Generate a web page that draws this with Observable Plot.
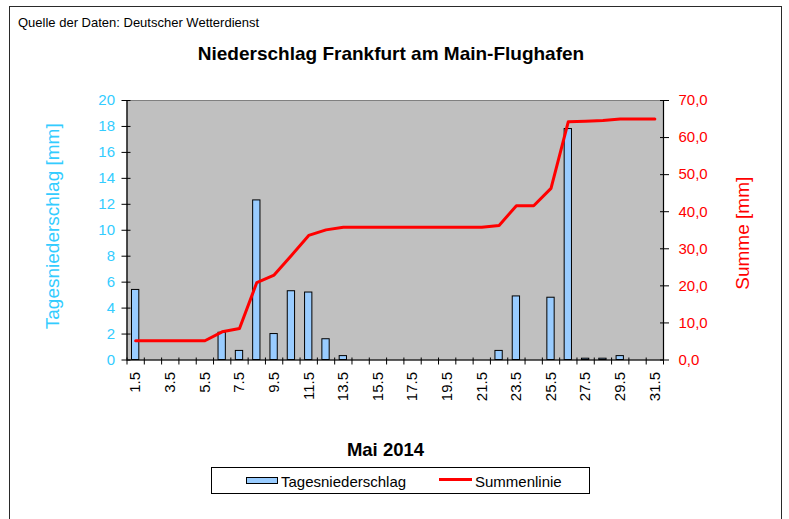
<!DOCTYPE html>
<html><head><meta charset="utf-8">
<script src="https://cdn.jsdelivr.net/npm/d3@7"></script>
<script src="https://cdn.jsdelivr.net/npm/@observablehq/plot@0.6"></script>
<style>
body{margin:0;background:#fff;font-family:"Liberation Sans",Arial,sans-serif;}
#wrap{position:relative;width:789px;height:519px;overflow:hidden;background:#fff;}
.t{position:absolute;white-space:nowrap;line-height:1;color:#000;}
#chart{position:absolute;left:0;top:0;}
</style></head><body>
<div id="wrap">
  <div style="position:absolute;left:8.5px;top:5.5px;width:773px;height:540px;border:1.5px solid #2a2a2a;box-sizing:border-box;"></div>
  <div id="chart"></div>
  <div class="t" style="left:18px;top:16.3px;font-size:13px;">Quelle der Daten: Deutscher Wetterdienst</div>
  <div class="t" style="left:0;width:782px;text-align:center;top:43.9px;font-size:19px;font-weight:bold;">Niederschlag Frankfurt am Main-Flughafen</div>
  <div class="t" style="left:0;width:771px;text-align:center;top:441.3px;font-size:18.5px;font-weight:bold;">Mai 2014</div>
  <div style="position:absolute;left:211px;top:466.5px;width:378.5px;height:27px;border:1.3px solid #000;box-sizing:border-box;"></div>
  <div style="position:absolute;left:246px;top:476.7px;width:32px;height:7px;background:#99ccff;border:1px solid #000;box-sizing:border-box;"></div>
  <div class="t" style="left:281px;top:474px;font-size:15px;">Tagesniederschlag</div>
  <div style="position:absolute;left:439px;top:478px;width:33px;height:3px;background:#ff0000;"></div>
  <div class="t" style="left:475px;top:474px;font-size:15px;">Summenlinie</div>
</div>
<script>
const days = [1,2,3,4,5,6,7,8,9,10,11,12,13,14,15,16,17,18,19,20,21,22,23,24,25,26,27,28,29,30,31];
const rain = [5.4,0,0,0,0,2.1,0.7,12.3,2.0,5.3,5.2,1.6,0.3,0,0,0,0,0,0,0,0,0.7,4.9,0,4.8,17.8,0.1,0.1,0.3,0,0];
const cumulative = [5.2,5.2,5.2,5.2,5.2,7.6,8.5,20.9,22.9,28.2,33.6,35.1,35.8,35.8,35.8,35.8,35.8,35.8,35.8,35.8,35.8,36.3,41.6,41.6,46.3,64.3,64.4,64.6,65.0,65.0,65.0];
const xTickLabels = ["1.5","3.5","5.5","7.5","9.5","11.5","13.5","15.5","17.5","19.5","21.5","23.5","25.5","27.5","29.5","31.5"];
const leftTicks = [0,2,4,6,8,10,12,14,16,18,20];
const rightTicks = [0,10,20,30,40,50,60,70];
const rightTickLabels = ["0,0","10,0","20,0","30,0","40,0","50,0","60,0","70,0"];
const leftMax = 20, rightMax = 70;
const k = leftMax / rightMax;

const rows = days.map((d, i) => ({day: d, rain: rain[i], sum: cumulative[i]}));
const labelDays = days.filter((d, i) => i % 2 === 0);
const boundaries = [days[0] - 0.5, ...days.map(d => d + 0.5)];
const rightTickPos = rightTicks.map(v => v * k);
const CYAN = "#33ccff", RED = "#ff0000";
const none = () => "";

const chart = Plot.plot({
  width: 789, height: 519,
  marginTop: 100, marginBottom: 159.5, marginLeft: 126.5, marginRight: 126,
  style: {fontFamily: "'Liberation Sans', Arial, sans-serif", background: "transparent", overflow: "visible"},
  x: {type: "linear", domain: [0.5, 31.5], axis: null},
  y: {domain: [0, leftMax], axis: null},
  marks: [
    Plot.frame({fill: "#c0c0c0", stroke: "#808080"}),
    Plot.rectY(rows, {x1: d => d.day - 0.5, x2: d => d.day + 0.5, y: "rain", insetLeft: 5, insetRight: 5, fill: "#99ccff", stroke: "#000", strokeWidth: 1}),
    Plot.line(rows, {x: "day", y: d => d.sum * k, stroke: RED, strokeWidth: 3}),
    Plot.ruleY([0], {stroke: "#000", strokeWidth: 1.2}),
    Plot.ruleX([0.5, 31.5], {stroke: "#000", strokeWidth: 1.2}),
    Plot.axisY({anchor: "left", ticks: leftTicks, tickSize: 9, dx: 4, stroke: "#000", tickFormat: none, label: null}),
    Plot.axisY({anchor: "left", ticks: leftTicks, tickSize: 0, tickPadding: 12, color: CYAN, fill: CYAN, fontSize: 15, label: null}),
    Plot.axisY({anchor: "right", ticks: rightTickPos, tickSize: 9, dx: -4, stroke: "#000", tickFormat: none, label: null}),
    Plot.axisY({anchor: "right", ticks: rightTickPos, tickSize: 0, tickPadding: 15, color: RED, fill: RED, fontSize: 15, label: null,
      tickFormat: d => rightTickLabels[rightTicks.indexOf(Math.round(d / k))]}),
    Plot.axisX({anchor: "bottom", ticks: boundaries, tickSize: 7, dy: -2, stroke: "#000", tickFormat: none, label: null}),
    Plot.axisX({anchor: "bottom", ticks: labelDays, tickSize: 0, tickPadding: 12, rotate: -90,
      textAnchor: "end", lineAnchor: "middle", color: "#000", fill: "#000", fontSize: 15, label: null,
      tickFormat: d => xTickLabels[labelDays.indexOf(d)]}),
    Plot.text(["Tagesniederschlag [mm]"], {frameAnchor: "left", dx: -74, dy: -4, rotate: -90, fill: CYAN, fontSize: 19, textAnchor: "middle", lineAnchor: "middle"}),
    Plot.text(["Summe [mm]"], {frameAnchor: "right", dx: 79.5, dy: 3, rotate: -90, fill: RED, fontSize: 19, textAnchor: "middle", lineAnchor: "middle"})
  ]
});
document.getElementById("chart").appendChild(chart);
</script>
</body></html>
